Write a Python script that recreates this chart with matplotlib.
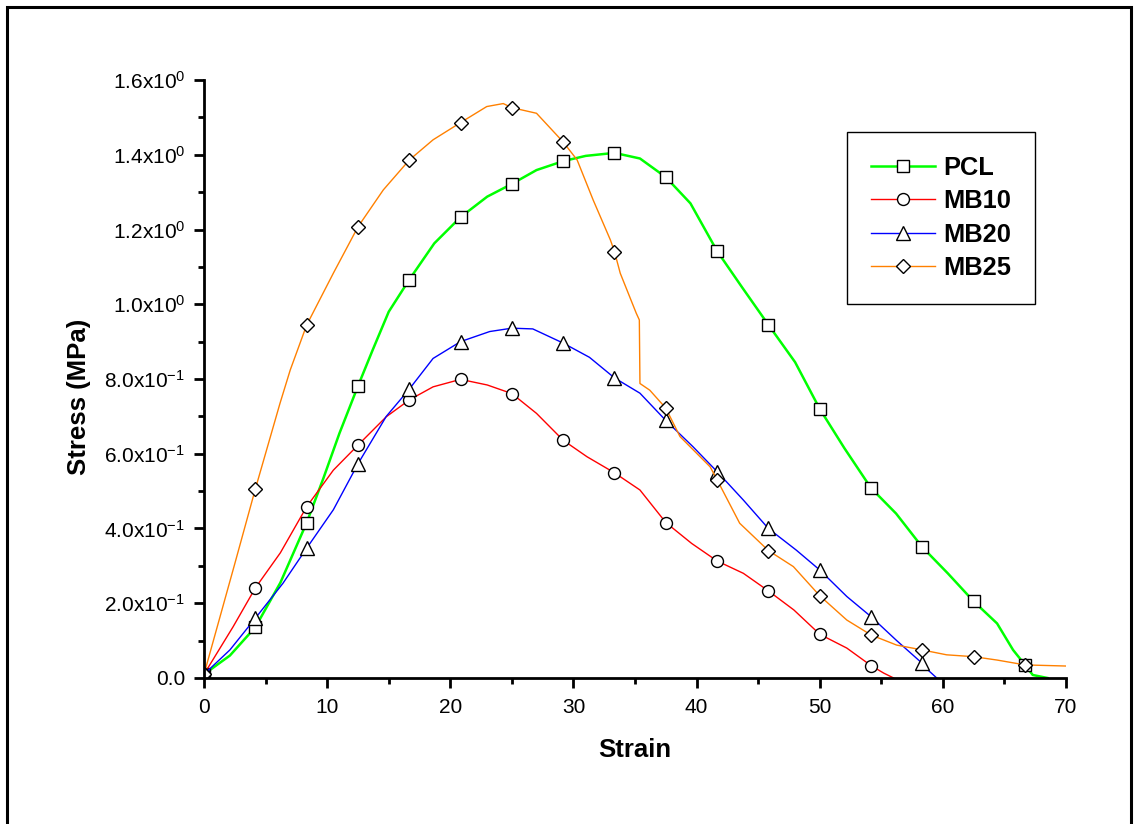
import matplotlib
matplotlib.use("Agg")
import matplotlib.pyplot as plt
import numpy as np
from matplotlib.patches import Rectangle
from matplotlib.ticker import MultipleLocator


# strain positions where the open symbols sit (same for every sample)
MARK_STRAIN = [0.0, 4.17, 8.33, 12.5, 16.67, 20.83, 25.0, 29.17, 33.33,
               37.5, 41.67, 45.83, 50.0, 54.17, 58.33, 62.5, 66.67]

pcl_strain = [0.0, 2.1, 4.17, 6.2, 8.33, 9.7, 11.0, 12.5, 13.7, 15.0, 16.67,
              18.7, 20.83, 23.0, 25.0, 27.0, 29.17, 31.0, 33.33, 35.4, 37.5,
              39.5, 41.67, 43.7, 45.83, 48.0, 50.0, 52.0, 54.17, 56.2, 58.33,
              60.4, 62.5, 64.4, 65.7, 66.67, 67.3, 68.5]
pcl_stress = [0.01, 0.06, 0.136, 0.255, 0.415, 0.535, 0.655, 0.781, 0.878,
              0.98, 1.066, 1.163, 1.233, 1.288, 1.322, 1.359, 1.383, 1.397,
              1.405, 1.39, 1.34, 1.27, 1.142, 1.045, 0.945, 0.845, 0.72, 0.615,
              0.508, 0.44, 0.35, 0.28, 0.205, 0.146, 0.075, 0.035, 0.008, 0.0]

mb10_strain = [0.0, 2.36, 4.17, 6.2, 8.33, 10.5, 12.5, 14.8, 16.67, 18.6,
               20.83, 23.0, 25.0, 27.0, 29.17, 31.1, 33.33, 35.4, 37.5, 39.6,
               41.67, 43.8, 45.83, 47.9, 50.0, 52.2, 54.17, 55.2, 56.0]
mb10_stress = [0.01, 0.137, 0.241, 0.335, 0.458, 0.556, 0.623, 0.699, 0.744,
               0.779, 0.799, 0.784, 0.761, 0.708, 0.636, 0.592, 0.549, 0.503,
               0.416, 0.36, 0.313, 0.28, 0.233, 0.182, 0.117, 0.08, 0.033,
               0.013, 0.0]

mb20_strain = [0.0, 2.1, 4.17, 6.4, 8.33, 10.5, 12.5, 14.8, 16.67, 18.6,
               20.83, 23.2, 25.0, 26.7, 29.17, 31.3, 33.33, 35.4, 37.5, 39.7,
               41.67, 43.8, 45.83, 48.1, 50.0, 52.2, 54.17, 56.25, 58.33, 58.8,
               59.5]
mb20_stress = [0.01, 0.075, 0.16, 0.253, 0.347, 0.45, 0.573, 0.70, 0.773,
               0.855, 0.90, 0.927, 0.936, 0.934, 0.896, 0.858, 0.803, 0.762,
               0.689, 0.619, 0.552, 0.476, 0.40, 0.342, 0.289, 0.218, 0.164,
               0.10, 0.039, 0.021, 0.0]

mb25_strain = [0.0, 2.45, 4.17, 6.17, 7.0, 8.33, 10.5, 12.5, 14.56, 16.67,
               18.6, 20.83, 22.96, 24.3, 25.0, 27.0, 29.17, 30.3, 31.6, 33.0,
               33.33, 33.8, 35.1, 35.35, 35.4, 36.2, 37.5, 38.65, 41.1, 41.67,
               43.5, 45.83, 47.86, 50.0, 52.2, 54.17, 56.25, 58.33, 60.3, 62.5,
               64.4, 66.67, 70.0]
mb25_stress = [0.01, 0.30, 0.506, 0.735, 0.824, 0.944, 1.083, 1.207, 1.306,
               1.386, 1.44, 1.486, 1.529, 1.537, 1.526, 1.511, 1.434, 1.386,
               1.279, 1.172, 1.141, 1.083, 0.976, 0.958, 0.788, 0.77, 0.722,
               0.646, 0.565, 0.53, 0.414, 0.341, 0.298, 0.22, 0.155, 0.115,
               0.088, 0.075, 0.062, 0.057, 0.048, 0.035, 0.032]

series_names = ["PCL", "MB10", "MB20", "MB25"]
series_colors = ["#00FF00", "#FF0000", "#0000FF", "#FF8000"]
series_markers = ["s", "o", "^", "D"]
series_msize = [8.0, 8.6, 9.5, 7.6]
series_lw = [1.8, 1.0, 1.0, 1.0]

y_tick_values = [0.0, 0.2, 0.4, 0.6, 0.8, 1.0, 1.2, 1.4, 1.6]
y_tick_labels = ["0.0", "2.0x10$^{-1}$", "4.0x10$^{-1}$", "6.0x10$^{-1}$",
                 "8.0x10$^{-1}$", "1.0x10$^{0}$", "1.2x10$^{0}$",
                 "1.4x10$^{0}$", "1.6x10$^{0}$"]
x_tick_values = [0, 10, 20, 30, 40, 50, 60, 70]


def main():
    plt.rcParams["font.family"] = ["Liberation Sans", "DejaVu Sans"]
    plt.rcParams["mathtext.fontset"] = "custom"
    plt.rcParams["mathtext.rm"] = "Liberation Sans"
    plt.rcParams["mathtext.default"] = "regular"

    fig = plt.figure(figsize=(11.36, 8.24), dpi=100)
    ax = fig.add_axes([0.1796, 0.1772, 0.7588, 0.7257])

    all_strain = [pcl_strain, mb10_strain, mb20_strain, mb25_strain]
    all_stress = [pcl_stress, mb10_stress, mb20_stress, mb25_stress]

    for name, xs, ys, color, mk, ms, lw in zip(series_names, all_strain, all_stress,
                                                series_colors, series_markers,
                                                series_msize, series_lw):
        xs = np.array(xs)
        marks = [i for i, s in enumerate(xs) if np.any(np.isclose(s, MARK_STRAIN))]
        ax.plot(xs, ys, color=color, lw=lw, marker=mk, markevery=marks,
                markersize=ms, markerfacecolor="white", markeredgecolor="black",
                markeredgewidth=1.0, label=name)

    ax.set_xlim(0, 70)
    ax.set_ylim(0, 1.6)
    ax.set_xticks(x_tick_values)
    ax.set_yticks(y_tick_values)
    ax.set_yticklabels(y_tick_labels)
    ax.xaxis.set_minor_locator(MultipleLocator(5))
    ax.yaxis.set_minor_locator(MultipleLocator(0.1))

    for side in ["top", "right"]:
        ax.spines[side].set_visible(False)
    for side in ["left", "bottom"]:
        ax.spines[side].set_linewidth(2.0)

    ax.tick_params(which="major", direction="out", length=7.5, width=2.0,
                   labelsize=15, pad=6)
    ax.tick_params(which="minor", direction="out", length=4.0, width=2.0)
    ax.tick_params(axis="x", which="major", pad=7)

    ax.set_xlabel("Strain", fontsize=18.5, fontweight="bold")
    ax.set_ylabel("Stress (MPa)", fontsize=18.5, fontweight="bold")
    ax.xaxis.set_label_coords(0.5, -0.1)
    ax.yaxis.set_label_coords(-0.131, 0.47)

    leg = ax.legend(loc="upper left", bbox_to_anchor=(0.7456, 0.8402),
                    bbox_transform=fig.transFigure, fancybox=False,
                    edgecolor="black", framealpha=1.0, borderpad=0.95,
                    labelspacing=0.37, handlelength=2.5, handletextpad=0.32,
                    borderaxespad=0.0, prop={"size": 18.3, "weight": "bold"})
    leg.get_frame().set_linewidth(1.0)

    # page border round the whole picture
    border = Rectangle((7 / 1136, -0.05), 1124 / 1136, 1.05 - 7 / 824,
                       transform=fig.transFigure, fill=False,
                       edgecolor="black", linewidth=2.2, clip_on=False)
    fig.patches.append(border)

    fig.savefig("out.png", dpi=100)
    plt.close(fig)


if __name__ == "__main__":
    main()
